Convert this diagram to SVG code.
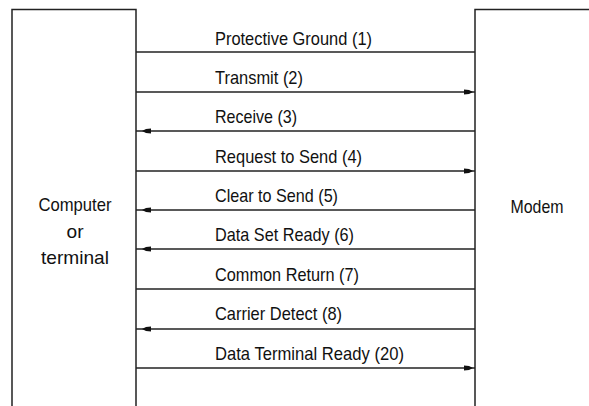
<svg xmlns="http://www.w3.org/2000/svg" width="589" height="406" viewBox="0 0 589 406">
<defs>
<style>
.box{fill:#fff;stroke:#222;stroke-width:1.5}
.ln{stroke:#222;stroke-width:1.6;fill:none}
text{font-family:"Liberation Sans",Arial,sans-serif;font-size:19px;fill:#111}
.lbl{text-anchor:start}
.ctr{text-anchor:middle}
</style>
<marker id="ahR" markerWidth="12" markerHeight="6" refX="11" refY="3" orient="auto" markerUnits="userSpaceOnUse">
<path d="M0,0.5 L5,1 L9,3 L5,5 L0,5.5 Z" fill="#111"/>
</marker>
<marker id="ahL" markerWidth="16" markerHeight="6" refX="15" refY="3" orient="auto" markerUnits="userSpaceOnUse">
<path d="M0,0.5 L5,1 L9,3 L5,5 L0,5.5 Z" fill="#111"/>
</marker>
</defs>
<rect width="589" height="406" fill="#fff"/>
<g id="computer">
<path class="box" d="M12,410 V9.5 H136 V410"/>
<text class="ctr" x="75" y="211" textLength="73" lengthAdjust="spacingAndGlyphs">Computer</text>
<text class="ctr" x="75" y="238" textLength="17" lengthAdjust="spacingAndGlyphs">or</text>
<text class="ctr" x="75" y="264" textLength="68" lengthAdjust="spacingAndGlyphs">terminal</text>
</g>
<g id="modem">
<path class="box" d="M595,9.5 H475 V410"/>
<text class="ctr" x="537" y="213" textLength="53" lengthAdjust="spacingAndGlyphs">Modem</text>
</g>
<g id="connectors">
<line class="ln" x1="136" y1="52" x2="475" y2="52"/>
<line class="ln" x1="136" y1="92" x2="475" y2="92" marker-end="url(#ahR)"/>
<line class="ln" x1="475" y1="131" x2="136" y2="131" marker-end="url(#ahL)"/>
<line class="ln" x1="136" y1="171" x2="475" y2="171" marker-end="url(#ahR)"/>
<line class="ln" x1="475" y1="210" x2="136" y2="210" marker-end="url(#ahL)"/>
<line class="ln" x1="475" y1="249" x2="136" y2="249" marker-end="url(#ahL)"/>
<line class="ln" x1="136" y1="289" x2="475" y2="289"/>
<line class="ln" x1="475" y1="329" x2="136" y2="329" marker-end="url(#ahL)"/>
<line class="ln" x1="136" y1="368" x2="475" y2="368" marker-end="url(#ahR)"/>
</g>
<g id="labels">
<text class="lbl" x="215" y="45" textLength="157" lengthAdjust="spacingAndGlyphs">Protective Ground (1)</text>
<text class="lbl" x="215" y="84" textLength="88" lengthAdjust="spacingAndGlyphs">Transmit (2)</text>
<text class="lbl" x="215" y="123" textLength="82" lengthAdjust="spacingAndGlyphs">Receive (3)</text>
<text class="lbl" x="215" y="163" textLength="147" lengthAdjust="spacingAndGlyphs">Request to Send (4)</text>
<text class="lbl" x="215" y="202" textLength="123" lengthAdjust="spacingAndGlyphs">Clear to Send (5)</text>
<text class="lbl" x="215" y="241" textLength="139" lengthAdjust="spacingAndGlyphs">Data Set Ready (6)</text>
<text class="lbl" x="215" y="281" textLength="144" lengthAdjust="spacingAndGlyphs">Common Return (7)</text>
<text class="lbl" x="215" y="320" textLength="127" lengthAdjust="spacingAndGlyphs">Carrier Detect (8)</text>
<text class="lbl" x="215" y="360" textLength="189" lengthAdjust="spacingAndGlyphs">Data Terminal Ready (20)</text>
</g>
</svg>
